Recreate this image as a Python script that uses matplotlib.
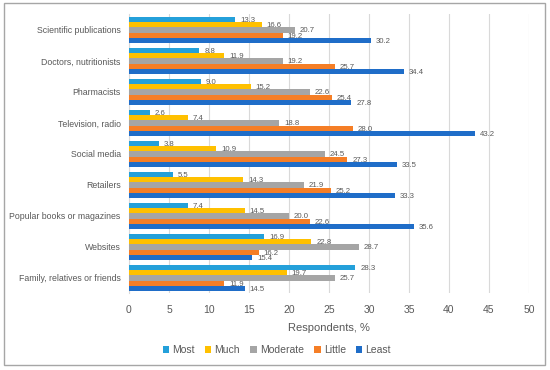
import numpy as np
import matplotlib.pyplot as plt
from matplotlib.patches import Rectangle

# -----------------------------
# Data
# -----------------------------

categories = [
    "Scientific publications",
    "Doctors, nutritionists",
    "Pharmacists",
    "Television, radio",
    "Social media",
    "Retailers",
    "Popular books or magazines",
    "Websites",
    "Family, relatives or friends",
]

series_names = ["Most", "Much", "Moderate", "Little", "Least"]

most = [13.3, 8.8, 9.0, 2.6, 3.8, 5.5, 7.4, 16.9, 28.3]
much = [16.6, 11.9, 15.2, 7.4, 10.9, 14.3, 14.5, 22.8, 19.7]
moderate = [20.7, 19.2, 22.6, 18.8, 24.5, 21.9, 20.0, 28.7, 25.7]
little = [19.2, 25.7, 25.4, 28.0, 27.3, 25.2, 22.6, 16.2, 11.9]
least = [30.2, 34.4, 27.8, 43.2, 33.5, 33.3, 35.6, 15.4, 14.5]

colors = ["#24A0DA", "#FFC000", "#A5A5A5", "#F57E26", "#1F6DC8"]

# -----------------------------
# Plot
# -----------------------------

plt.rcParams["font.family"] = ["Liberation Sans", "DejaVu Sans"]

fig = plt.figure(figsize=(5.5, 3.7), dpi=100)
ax = fig.add_axes([0.2345, 0.207, 0.7273, 0.754])

text_color = "#595959"
bar_h = 0.168
y = np.arange(len(categories))

for j, (name, vals) in enumerate(zip(series_names, [most, much, moderate, little, least])):
    pos = y + (j - 2) * bar_h
    ax.barh(pos, vals, height=bar_h, color=colors[j], label=name, zorder=3)
    for p, v in zip(pos, vals):
        ax.text(v + 0.6, p + 0.03, f"{v:.1f}", va="center", ha="left",
                fontsize=5.6, color=text_color, zorder=4)

ax.set_ylim(len(categories) - 0.5, -0.5)
ax.set_xlim(0, 50)
ax.set_xticks(np.arange(0, 51, 5))
ax.set_yticks(y)
ax.set_yticklabels(categories, fontsize=6.3, color=text_color)
ax.tick_params(axis="x", labelsize=7.5, colors=text_color, length=0, pad=8)
ax.tick_params(axis="y", length=0, pad=6)

ax.grid(axis="x", color="#D9D9D9", linewidth=0.8, zorder=0)
for s in ["top", "right", "bottom"]:
    ax.spines[s].set_visible(False)
ax.spines["left"].set_color("#D9D9D9")

ax.set_xlabel("Respondents, %", fontsize=8, color=text_color, labelpad=6)

# legend centred near x = 275 px, y = 350 px
ax.legend(loc="center", bbox_to_anchor=((277 - 129) / 400, 1 - (350 - 14.5) / 279),
          ncol=5, frameon=False, fontsize=7.5, labelcolor=text_color,
          handlelength=0.6, handleheight=0.6, handletextpad=0.3, columnspacing=1.0)

fig.patches.append(Rectangle((4 / 550, 1 - 365 / 370), 541 / 550, 362 / 370,
                             transform=fig.transFigure, fill=False,
                             edgecolor="#A6A6A6", linewidth=1))

fig.savefig("out.png", dpi=100)
